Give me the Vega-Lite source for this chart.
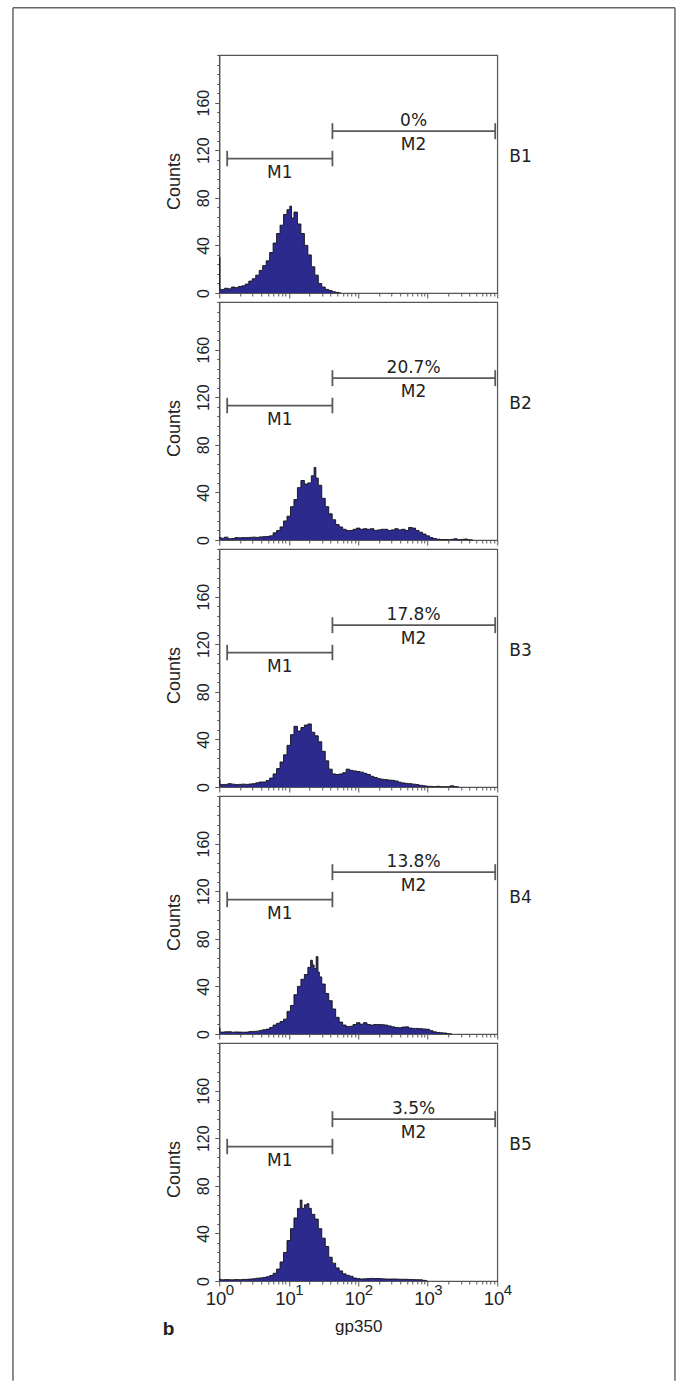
{
"$schema": "https://vega.github.io/schema/vega-lite/v6.json",
"padding": {"left": 11.25, "top": 6, "right": 0, "bottom": 0},
"background": "white",
"spacing": 9,
"bounds": "flush",
"config": {
 "view": {"stroke": "#555", "strokeWidth": 1.2},
 "axis": {"domainColor": "#555", "domainWidth": 1.2, "tickColor": "#555", "tickWidth": 1, "labelColor": "#222", "titleColor": "#222", "grid": false, "labelFont": "Liberation Sans", "titleFont": "Liberation Sans", "titleFontWeight": "normal"},
 "text": {"font": "DejaVu Sans", "fontSize": 17, "color": "#222"},
 "rule": {"color": "#5a5a5a", "strokeWidth": 1.8},
 "area": {"opacity": 1, "fillOpacity": 1}
},
"datasets": {
 "gates": [{"gate": "M1", "lo": 1.3, "hi": 42.5}, {"gate": "M2", "lo": 42.5, "hi": 9350}],
 "labels": [{"p": "B1", "pct": "0%"}, {"p": "B2", "pct": "20.7%"}, {"p": "B3", "pct": "17.8%"}, {"p": "B4", "pct": "13.8%"}, {"p": "B5", "pct": "3.5%"}],
 "exps": [{"x": 1, "e": "0"}, {"x": 10, "e": "1"}, {"x": 100, "e": "2"}, {"x": 1000, "e": "3"}, {"x": 10000, "e": "4"}],
 "hist": [
  {"p":"B1","x":1,"c":30},{"p":"B1","x":1.047,"c":3},{"p":"B1","x":1.122,"c":3},{"p":"B1","x":1.259,"c":4},{"p":"B1","x":1.413,"c":3.5},{"p":"B1","x":1.585,"c":5},{"p":"B1","x":1.778,"c":4.5},{"p":"B1","x":1.995,"c":5.5},{"p":"B1","x":2.239,"c":6},{"p":"B1","x":2.512,"c":7.5},{"p":"B1","x":2.818,"c":10},{"p":"B1","x":3.162,"c":12},{"p":"B1","x":3.548,"c":15},{"p":"B1","x":3.981,"c":19},{"p":"B1","x":4.467,"c":23},{"p":"B1","x":5.012,"c":27},{"p":"B1","x":5.623,"c":34},{"p":"B1","x":6.31,"c":42},{"p":"B1","x":7.079,"c":50},{"p":"B1","x":7.943,"c":57},{"p":"B1","x":8.913,"c":66},{"p":"B1","x":10,"c":70},{"p":"B1","x":10.72,"c":73},{"p":"B1","x":11.22,"c":63},{"p":"B1","x":12.59,"c":68},{"p":"B1","x":14.13,"c":58},{"p":"B1","x":15.85,"c":50},{"p":"B1","x":17.78,"c":40},{"p":"B1","x":19.95,"c":32},{"p":"B1","x":22.39,"c":22},{"p":"B1","x":25.12,"c":15},{"p":"B1","x":28.18,"c":8},{"p":"B1","x":31.62,"c":5},{"p":"B1","x":35.48,"c":3},{"p":"B1","x":39.81,"c":2},{"p":"B1","x":44.67,"c":1},{"p":"B1","x":50.12,"c":0.5},{"p":"B1","x":56.23,"c":0},
  {"p":"B2","x":1,"c":2},{"p":"B2","x":1.122,"c":1.5},{"p":"B2","x":1.259,"c":2.4},{"p":"B2","x":1.413,"c":1},{"p":"B2","x":1.585,"c":1.2},{"p":"B2","x":1.778,"c":2},{"p":"B2","x":1.995,"c":1.8},{"p":"B2","x":2.239,"c":2},{"p":"B2","x":2.512,"c":2},{"p":"B2","x":2.818,"c":2.2},{"p":"B2","x":3.162,"c":2.4},{"p":"B2","x":3.548,"c":2.2},{"p":"B2","x":3.981,"c":2.6},{"p":"B2","x":4.467,"c":2.8},{"p":"B2","x":5.012,"c":3},{"p":"B2","x":5.623,"c":3.5},{"p":"B2","x":6.31,"c":6},{"p":"B2","x":7.079,"c":8},{"p":"B2","x":7.943,"c":11},{"p":"B2","x":8.913,"c":16},{"p":"B2","x":10,"c":20},{"p":"B2","x":11.22,"c":28},{"p":"B2","x":12.59,"c":34},{"p":"B2","x":14.13,"c":44},{"p":"B2","x":15.85,"c":50},{"p":"B2","x":17.78,"c":47},{"p":"B2","x":19.95,"c":48},{"p":"B2","x":22.39,"c":54},{"p":"B2","x":23.99,"c":61},{"p":"B2","x":25.12,"c":52},{"p":"B2","x":28.18,"c":46},{"p":"B2","x":31.62,"c":35},{"p":"B2","x":35.48,"c":28},{"p":"B2","x":39.81,"c":22},{"p":"B2","x":44.67,"c":17},{"p":"B2","x":50.12,"c":13},{"p":"B2","x":56.23,"c":11},{"p":"B2","x":63.1,"c":9},{"p":"B2","x":70.79,"c":8},{"p":"B2","x":79.43,"c":8},{"p":"B2","x":89.13,"c":9},{"p":"B2","x":100,"c":10},{"p":"B2","x":112.2,"c":9},{"p":"B2","x":125.9,"c":9.5},{"p":"B2","x":141.3,"c":9},{"p":"B2","x":158.5,"c":9.5},{"p":"B2","x":177.8,"c":8},{"p":"B2","x":199.5,"c":8.5},{"p":"B2","x":223.9,"c":9},{"p":"B2","x":251.2,"c":9},{"p":"B2","x":281.8,"c":8},{"p":"B2","x":316.2,"c":8.5},{"p":"B2","x":354.8,"c":9.5},{"p":"B2","x":398.1,"c":8.5},{"p":"B2","x":446.7,"c":9},{"p":"B2","x":501.2,"c":8},{"p":"B2","x":562.3,"c":10.5},{"p":"B2","x":631,"c":10},{"p":"B2","x":707.9,"c":8},{"p":"B2","x":794.3,"c":6.5},{"p":"B2","x":891.3,"c":5},{"p":"B2","x":1000,"c":3.5},{"p":"B2","x":1122,"c":2},{"p":"B2","x":1259,"c":1.2},{"p":"B2","x":1413,"c":0.7},{"p":"B2","x":1585,"c":0.4},{"p":"B2","x":1778,"c":0.4},{"p":"B2","x":1995,"c":0.3},{"p":"B2","x":2239,"c":0.5},{"p":"B2","x":2512,"c":1},{"p":"B2","x":2818,"c":0.3},{"p":"B2","x":3162,"c":0.5},{"p":"B2","x":3548,"c":0.8},{"p":"B2","x":3981,"c":0.2},{"p":"B2","x":4467,"c":0},
  {"p":"B3","x":1,"c":5.6},{"p":"B3","x":1.047,"c":2},{"p":"B3","x":1.122,"c":2},{"p":"B3","x":1.259,"c":2.2},{"p":"B3","x":1.413,"c":2.8},{"p":"B3","x":1.585,"c":2.4},{"p":"B3","x":1.778,"c":2},{"p":"B3","x":1.995,"c":2.2},{"p":"B3","x":2.239,"c":2.4},{"p":"B3","x":2.512,"c":2.2},{"p":"B3","x":2.818,"c":2.5},{"p":"B3","x":3.162,"c":2.8},{"p":"B3","x":3.548,"c":3.5},{"p":"B3","x":3.981,"c":4.2},{"p":"B3","x":4.467,"c":4.2},{"p":"B3","x":5.012,"c":5.5},{"p":"B3","x":5.623,"c":7.5},{"p":"B3","x":6.31,"c":11},{"p":"B3","x":7.079,"c":15.5},{"p":"B3","x":7.943,"c":21},{"p":"B3","x":8.913,"c":27},{"p":"B3","x":10,"c":35},{"p":"B3","x":11.22,"c":44},{"p":"B3","x":12.59,"c":51},{"p":"B3","x":14.13,"c":47},{"p":"B3","x":15.85,"c":50},{"p":"B3","x":17.78,"c":52},{"p":"B3","x":19.95,"c":53},{"p":"B3","x":22.39,"c":46},{"p":"B3","x":25.12,"c":43},{"p":"B3","x":28.18,"c":38},{"p":"B3","x":31.62,"c":30},{"p":"B3","x":35.48,"c":22},{"p":"B3","x":39.81,"c":15},{"p":"B3","x":44.67,"c":11},{"p":"B3","x":50.12,"c":10.5},{"p":"B3","x":56.23,"c":11},{"p":"B3","x":63.1,"c":12},{"p":"B3","x":70.79,"c":15},{"p":"B3","x":79.43,"c":14},{"p":"B3","x":89.13,"c":13.5},{"p":"B3","x":100,"c":13},{"p":"B3","x":112.2,"c":12.5},{"p":"B3","x":125.9,"c":11.5},{"p":"B3","x":141.3,"c":10.5},{"p":"B3","x":158.5,"c":9},{"p":"B3","x":177.8,"c":8},{"p":"B3","x":199.5,"c":7},{"p":"B3","x":223.9,"c":6.5},{"p":"B3","x":251.2,"c":6.2},{"p":"B3","x":281.8,"c":5.8},{"p":"B3","x":316.2,"c":5.6},{"p":"B3","x":354.8,"c":5},{"p":"B3","x":398.1,"c":4},{"p":"B3","x":446.7,"c":3.4},{"p":"B3","x":501.2,"c":3},{"p":"B3","x":562.3,"c":2.8},{"p":"B3","x":631,"c":2.4},{"p":"B3","x":707.9,"c":2},{"p":"B3","x":794.3,"c":1.4},{"p":"B3","x":891.3,"c":1},{"p":"B3","x":1000,"c":0.6},{"p":"B3","x":1122,"c":0.5},{"p":"B3","x":1259,"c":0.3},{"p":"B3","x":1413,"c":0.6},{"p":"B3","x":1585,"c":0.3},{"p":"B3","x":1778,"c":0.2},{"p":"B3","x":1995,"c":0.3},{"p":"B3","x":2239,"c":1},{"p":"B3","x":2512,"c":0.3},{"p":"B3","x":2818,"c":0},
  {"p":"B4","x":1,"c":5},{"p":"B4","x":1.047,"c":1.5},{"p":"B4","x":1.122,"c":1.6},{"p":"B4","x":1.259,"c":1.8},{"p":"B4","x":1.413,"c":1.9},{"p":"B4","x":1.585,"c":1.5},{"p":"B4","x":1.778,"c":1.7},{"p":"B4","x":1.995,"c":1.6},{"p":"B4","x":2.239,"c":1.5},{"p":"B4","x":2.512,"c":1.6},{"p":"B4","x":2.818,"c":2},{"p":"B4","x":3.162,"c":2.2},{"p":"B4","x":3.548,"c":2.4},{"p":"B4","x":3.981,"c":3},{"p":"B4","x":4.467,"c":3.6},{"p":"B4","x":5.012,"c":4.1},{"p":"B4","x":5.623,"c":5.5},{"p":"B4","x":6.31,"c":7.5},{"p":"B4","x":7.079,"c":9},{"p":"B4","x":7.943,"c":10.5},{"p":"B4","x":8.913,"c":12.5},{"p":"B4","x":10,"c":19},{"p":"B4","x":11.22,"c":24},{"p":"B4","x":12.59,"c":33},{"p":"B4","x":14.13,"c":40},{"p":"B4","x":15.85,"c":46},{"p":"B4","x":17.78,"c":50},{"p":"B4","x":19.95,"c":56},{"p":"B4","x":21.38,"c":62},{"p":"B4","x":22.39,"c":58},{"p":"B4","x":23.99,"c":55},{"p":"B4","x":25.7,"c":65},{"p":"B4","x":26.92,"c":52},{"p":"B4","x":28.18,"c":48},{"p":"B4","x":31.62,"c":42},{"p":"B4","x":35.48,"c":34},{"p":"B4","x":39.81,"c":28},{"p":"B4","x":44.67,"c":21},{"p":"B4","x":50.12,"c":14},{"p":"B4","x":56.23,"c":10},{"p":"B4","x":63.1,"c":7.5},{"p":"B4","x":70.79,"c":6.2},{"p":"B4","x":79.43,"c":6.5},{"p":"B4","x":89.13,"c":8},{"p":"B4","x":100,"c":9.5},{"p":"B4","x":112.2,"c":8.2},{"p":"B4","x":125.9,"c":9.5},{"p":"B4","x":141.3,"c":8},{"p":"B4","x":158.5,"c":7.5},{"p":"B4","x":177.8,"c":8},{"p":"B4","x":199.5,"c":8},{"p":"B4","x":223.9,"c":7.8},{"p":"B4","x":251.2,"c":7.5},{"p":"B4","x":281.8,"c":6.8},{"p":"B4","x":316.2,"c":6},{"p":"B4","x":354.8,"c":5.5},{"p":"B4","x":398.1,"c":5.2},{"p":"B4","x":446.7,"c":5.8},{"p":"B4","x":501.2,"c":6},{"p":"B4","x":562.3,"c":5},{"p":"B4","x":631,"c":4.7},{"p":"B4","x":707.9,"c":4.7},{"p":"B4","x":794.3,"c":4.5},{"p":"B4","x":891.3,"c":4.2},{"p":"B4","x":1000,"c":4},{"p":"B4","x":1122,"c":2.8},{"p":"B4","x":1259,"c":1.8},{"p":"B4","x":1413,"c":1.3},{"p":"B4","x":1585,"c":1},{"p":"B4","x":1778,"c":0.8},{"p":"B4","x":1995,"c":0.3},{"p":"B4","x":2239,"c":0},
  {"p":"B5","x":1,"c":1.5},{"p":"B5","x":1.122,"c":1},{"p":"B5","x":1.259,"c":1.2},{"p":"B5","x":1.413,"c":1.1},{"p":"B5","x":1.585,"c":1},{"p":"B5","x":1.778,"c":1.2},{"p":"B5","x":1.995,"c":1.1},{"p":"B5","x":2.239,"c":1.3},{"p":"B5","x":2.512,"c":1.4},{"p":"B5","x":2.818,"c":1.6},{"p":"B5","x":3.162,"c":1.9},{"p":"B5","x":3.548,"c":2.3},{"p":"B5","x":3.981,"c":2.6},{"p":"B5","x":4.467,"c":3},{"p":"B5","x":5.012,"c":3.6},{"p":"B5","x":5.623,"c":4.6},{"p":"B5","x":6.31,"c":6.5},{"p":"B5","x":7.079,"c":10},{"p":"B5","x":7.943,"c":16},{"p":"B5","x":8.913,"c":24},{"p":"B5","x":10,"c":34},{"p":"B5","x":11.22,"c":44},{"p":"B5","x":12.59,"c":53},{"p":"B5","x":14.13,"c":61},{"p":"B5","x":15.14,"c":68},{"p":"B5","x":15.85,"c":61},{"p":"B5","x":17.78,"c":64},{"p":"B5","x":19.05,"c":65},{"p":"B5","x":19.95,"c":61},{"p":"B5","x":22.39,"c":56},{"p":"B5","x":25.12,"c":52},{"p":"B5","x":28.18,"c":44},{"p":"B5","x":31.62,"c":36},{"p":"B5","x":35.48,"c":29},{"p":"B5","x":39.81,"c":20},{"p":"B5","x":44.67,"c":15},{"p":"B5","x":50.12,"c":11},{"p":"B5","x":56.23,"c":8.5},{"p":"B5","x":63.1,"c":6},{"p":"B5","x":70.79,"c":4.8},{"p":"B5","x":79.43,"c":4},{"p":"B5","x":89.13,"c":2.5},{"p":"B5","x":100,"c":2},{"p":"B5","x":112.2,"c":1.7},{"p":"B5","x":125.9,"c":1.8},{"p":"B5","x":141.3,"c":2},{"p":"B5","x":158.5,"c":2.2},{"p":"B5","x":177.8,"c":2},{"p":"B5","x":199.5,"c":2.1},{"p":"B5","x":223.9,"c":1.8},{"p":"B5","x":251.2,"c":1.7},{"p":"B5","x":281.8,"c":1.6},{"p":"B5","x":316.2,"c":1.7},{"p":"B5","x":354.8,"c":1.6},{"p":"B5","x":398.1,"c":1.5},{"p":"B5","x":446.7,"c":1.4},{"p":"B5","x":501.2,"c":1.4},{"p":"B5","x":562.3,"c":1.3},{"p":"B5","x":631,"c":1.2},{"p":"B5","x":707.9,"c":1.1},{"p":"B5","x":794.3,"c":1},{"p":"B5","x":891.3,"c":0.5},{"p":"B5","x":1000,"c":0}
 ]
},
"vconcat": [
 {"width": 278, "height": 238, "resolve": {"axis": {"y": "independent"}}, "layer": [
  {"data": {"name": "hist"}, "transform": [{"filter": "datum.p === 'B1'"}],
   "mark": {"type": "area", "interpolate": "step", "color": "#2d2a8e", "opacity": 1, "line": {"color": "#111", "strokeWidth": 0.9}},
   "encoding": {
    "x": {"field": "x", "type": "quantitative", "scale": {"type": "log", "domain": [1, 10000], "nice": false},
     "axis": {"values": [1,2,3,4,5,6,7,8,9,10,20,30,40,50,60,70,80,90,100,200,300,400,500,600,700,800,900,1000,2000,3000,4000,5000,6000,7000,8000,9000,10000], "labels": false, "title": null, "tickSize": {"condition": {"test": "indexof([1,10,100,1000,10000], datum.value) >= 0", "value": 5}, "value": 3}}},
    "y": {"field": "c", "type": "quantitative", "scale": {"domain": [0, 200], "nice": false},
     "axis": {"orient": "left", "values": [0,40,80,120,160], "labelAngle": -90, "labelAlign": "center", "labelBaseline": "alphabetic", "labelPadding": 6.5, "labelFontSize": 16, "labelOverlap": false, "labelFlush": false, "tickSize": 4.5, "title": "Counts", "titleFontSize": 18, "titleAngle": -90, "titleX": -40, "titleY": 126, "titleAlign": "center", "titleBaseline": "alphabetic"}}
   }},
  {"data": {"name": "hist"}, "transform": [{"filter": "datum.p === 'B1'"}], "mark": {"type": "point", "opacity": 0},
   "encoding": {"x": {"field": "x", "type": "quantitative"}, "y": {"field": "c", "type": "quantitative", "axis": {"orient": "left", "values": [8,16,24,32,48,56,64,72,88,96,104,112,128,136,144,152,168,176,184,192,200], "labels": false, "domain": false, "tickSize": 2.5, "title": null}}}},
  {"data": {"name": "gates"}, "transform": [{"filter": "datum.gate === 'M1'"}], "mark": "rule", "encoding": {"x": {"field": "lo", "type": "quantitative"}, "x2": {"field": "hi"}, "y": {"datum": 113, "axis": null}}},
  {"data": {"name": "gates"}, "transform": [{"filter": "datum.gate === 'M1'"}, {"fold": ["lo", "hi"], "as": ["end", "xv"]}], "mark": "rule", "encoding": {"x": {"field": "xv", "type": "quantitative"}, "y": {"datum": 106.5, "axis": null}, "y2": {"datum": 119.5}}},
  {"data": {"name": "gates"}, "transform": [{"filter": "datum.gate === 'M2'"}], "mark": "rule", "encoding": {"x": {"field": "lo", "type": "quantitative"}, "x2": {"field": "hi"}, "y": {"datum": 136, "axis": null}}},
  {"data": {"name": "gates"}, "transform": [{"filter": "datum.gate === 'M2'"}, {"fold": ["lo", "hi"], "as": ["end", "xv"]}], "mark": "rule", "encoding": {"x": {"field": "xv", "type": "quantitative"}, "y": {"datum": 129.3, "axis": null}, "y2": {"datum": 142.7}}},
  {"data": {"name": "gates"}, "transform": [{"filter": "datum.gate === 'M1'"}], "mark": {"type": "text", "baseline": "alphabetic"}, "encoding": {"x": {"datum": 7.43}, "y": {"datum": 96.5, "axis": null}, "text": {"field": "gate"}}},
  {"data": {"name": "gates"}, "transform": [{"filter": "datum.gate === 'M2'"}], "mark": {"type": "text", "baseline": "alphabetic"}, "encoding": {"x": {"datum": 625}, "y": {"datum": 120.4, "axis": null}, "text": {"field": "gate"}}},
  {"data": {"name": "labels"}, "transform": [{"filter": "datum.p === 'B1'"}], "mark": {"type": "text", "baseline": "alphabetic"}, "encoding": {"x": {"datum": 625}, "y": {"datum": 140, "axis": null}, "text": {"field": "pct"}}},
  {"data": {"name": "labels"}, "transform": [{"filter": "datum.p === 'B1'"}], "mark": {"type": "text", "baseline": "alphabetic", "align": "left"}, "encoding": {"x": {"datum": 14900}, "y": {"datum": 109.7, "axis": null}, "text": {"field": "p"}}},
  {"data": {"values": [{"part": "top"}]}, "mark": {"type": "rule", "color": "#666", "strokeWidth": 1.5}, "encoding": {"x": {"datum": 0.001076}, "x2": {"datum": 3606000}, "y": {"datum": 239.7, "axis": null}}},
  {"data": {"values": [{"part": "left"}]}, "mark": {"type": "rule", "color": "#666", "strokeWidth": 1.5}, "encoding": {"x": {"datum": 0.001076}, "y": {"datum": 239.7, "axis": null}, "y2": {"datum": -914}}},
  {"data": {"values": [{"part": "right"}]}, "mark": {"type": "rule", "color": "#666", "strokeWidth": 1.5}, "encoding": {"x": {"datum": 3606000}, "y": {"datum": 239.7, "axis": null}, "y2": {"datum": -914}}}
 ]},
 {"width": 278, "height": 238, "resolve": {"axis": {"y": "independent"}}, "layer": [
  {"data": {"name": "hist"}, "transform": [{"filter": "datum.p === 'B2'"}],
   "mark": {"type": "area", "interpolate": "step", "color": "#2d2a8e", "opacity": 1, "line": {"color": "#111", "strokeWidth": 0.9}},
   "encoding": {
    "x": {"field": "x", "type": "quantitative", "scale": {"type": "log", "domain": [1, 10000], "nice": false},
     "axis": {"values": [1,2,3,4,5,6,7,8,9,10,20,30,40,50,60,70,80,90,100,200,300,400,500,600,700,800,900,1000,2000,3000,4000,5000,6000,7000,8000,9000,10000], "labels": false, "title": null, "tickSize": {"condition": {"test": "indexof([1,10,100,1000,10000], datum.value) >= 0", "value": 5}, "value": 3}}},
    "y": {"field": "c", "type": "quantitative", "scale": {"domain": [0, 200], "nice": false},
     "axis": {"orient": "left", "values": [0,40,80,120,160], "labelAngle": -90, "labelAlign": "center", "labelBaseline": "alphabetic", "labelPadding": 6.5, "labelFontSize": 16, "labelOverlap": false, "labelFlush": false, "tickSize": 4.5, "title": "Counts", "titleFontSize": 18, "titleAngle": -90, "titleX": -40, "titleY": 126, "titleAlign": "center", "titleBaseline": "alphabetic"}}
   }},
  {"data": {"name": "hist"}, "transform": [{"filter": "datum.p === 'B2'"}], "mark": {"type": "point", "opacity": 0},
   "encoding": {"x": {"field": "x", "type": "quantitative"}, "y": {"field": "c", "type": "quantitative", "axis": {"orient": "left", "values": [8,16,24,32,48,56,64,72,88,96,104,112,128,136,144,152,168,176,184,192,200], "labels": false, "domain": false, "tickSize": 2.5, "title": null}}}},
  {"data": {"name": "gates"}, "transform": [{"filter": "datum.gate === 'M1'"}], "mark": "rule", "encoding": {"x": {"field": "lo", "type": "quantitative"}, "x2": {"field": "hi"}, "y": {"datum": 113, "axis": null}}},
  {"data": {"name": "gates"}, "transform": [{"filter": "datum.gate === 'M1'"}, {"fold": ["lo", "hi"], "as": ["end", "xv"]}], "mark": "rule", "encoding": {"x": {"field": "xv", "type": "quantitative"}, "y": {"datum": 106.5, "axis": null}, "y2": {"datum": 119.5}}},
  {"data": {"name": "gates"}, "transform": [{"filter": "datum.gate === 'M2'"}], "mark": "rule", "encoding": {"x": {"field": "lo", "type": "quantitative"}, "x2": {"field": "hi"}, "y": {"datum": 136, "axis": null}}},
  {"data": {"name": "gates"}, "transform": [{"filter": "datum.gate === 'M2'"}, {"fold": ["lo", "hi"], "as": ["end", "xv"]}], "mark": "rule", "encoding": {"x": {"field": "xv", "type": "quantitative"}, "y": {"datum": 129.3, "axis": null}, "y2": {"datum": 142.7}}},
  {"data": {"name": "gates"}, "transform": [{"filter": "datum.gate === 'M1'"}], "mark": {"type": "text", "baseline": "alphabetic"}, "encoding": {"x": {"datum": 7.43}, "y": {"datum": 96.5, "axis": null}, "text": {"field": "gate"}}},
  {"data": {"name": "gates"}, "transform": [{"filter": "datum.gate === 'M2'"}], "mark": {"type": "text", "baseline": "alphabetic"}, "encoding": {"x": {"datum": 625}, "y": {"datum": 120.4, "axis": null}, "text": {"field": "gate"}}},
  {"data": {"name": "labels"}, "transform": [{"filter": "datum.p === 'B2'"}], "mark": {"type": "text", "baseline": "alphabetic"}, "encoding": {"x": {"datum": 625}, "y": {"datum": 140, "axis": null}, "text": {"field": "pct"}}},
  {"data": {"name": "labels"}, "transform": [{"filter": "datum.p === 'B2'"}], "mark": {"type": "text", "baseline": "alphabetic", "align": "left"}, "encoding": {"x": {"datum": 14900}, "y": {"datum": 109.7, "axis": null}, "text": {"field": "p"}}}
 ]},
 {"width": 278, "height": 238, "resolve": {"axis": {"y": "independent"}}, "layer": [
  {"data": {"name": "hist"}, "transform": [{"filter": "datum.p === 'B3'"}],
   "mark": {"type": "area", "interpolate": "step", "color": "#2d2a8e", "opacity": 1, "line": {"color": "#111", "strokeWidth": 0.9}},
   "encoding": {
    "x": {"field": "x", "type": "quantitative", "scale": {"type": "log", "domain": [1, 10000], "nice": false},
     "axis": {"values": [1,2,3,4,5,6,7,8,9,10,20,30,40,50,60,70,80,90,100,200,300,400,500,600,700,800,900,1000,2000,3000,4000,5000,6000,7000,8000,9000,10000], "labels": false, "title": null, "tickSize": {"condition": {"test": "indexof([1,10,100,1000,10000], datum.value) >= 0", "value": 5}, "value": 3}}},
    "y": {"field": "c", "type": "quantitative", "scale": {"domain": [0, 200], "nice": false},
     "axis": {"orient": "left", "values": [0,40,80,120,160], "labelAngle": -90, "labelAlign": "center", "labelBaseline": "alphabetic", "labelPadding": 6.5, "labelFontSize": 16, "labelOverlap": false, "labelFlush": false, "tickSize": 4.5, "title": "Counts", "titleFontSize": 18, "titleAngle": -90, "titleX": -40, "titleY": 126, "titleAlign": "center", "titleBaseline": "alphabetic"}}
   }},
  {"data": {"name": "hist"}, "transform": [{"filter": "datum.p === 'B3'"}], "mark": {"type": "point", "opacity": 0},
   "encoding": {"x": {"field": "x", "type": "quantitative"}, "y": {"field": "c", "type": "quantitative", "axis": {"orient": "left", "values": [8,16,24,32,48,56,64,72,88,96,104,112,128,136,144,152,168,176,184,192,200], "labels": false, "domain": false, "tickSize": 2.5, "title": null}}}},
  {"data": {"name": "gates"}, "transform": [{"filter": "datum.gate === 'M1'"}], "mark": "rule", "encoding": {"x": {"field": "lo", "type": "quantitative"}, "x2": {"field": "hi"}, "y": {"datum": 113, "axis": null}}},
  {"data": {"name": "gates"}, "transform": [{"filter": "datum.gate === 'M1'"}, {"fold": ["lo", "hi"], "as": ["end", "xv"]}], "mark": "rule", "encoding": {"x": {"field": "xv", "type": "quantitative"}, "y": {"datum": 106.5, "axis": null}, "y2": {"datum": 119.5}}},
  {"data": {"name": "gates"}, "transform": [{"filter": "datum.gate === 'M2'"}], "mark": "rule", "encoding": {"x": {"field": "lo", "type": "quantitative"}, "x2": {"field": "hi"}, "y": {"datum": 136, "axis": null}}},
  {"data": {"name": "gates"}, "transform": [{"filter": "datum.gate === 'M2'"}, {"fold": ["lo", "hi"], "as": ["end", "xv"]}], "mark": "rule", "encoding": {"x": {"field": "xv", "type": "quantitative"}, "y": {"datum": 129.3, "axis": null}, "y2": {"datum": 142.7}}},
  {"data": {"name": "gates"}, "transform": [{"filter": "datum.gate === 'M1'"}], "mark": {"type": "text", "baseline": "alphabetic"}, "encoding": {"x": {"datum": 7.43}, "y": {"datum": 96.5, "axis": null}, "text": {"field": "gate"}}},
  {"data": {"name": "gates"}, "transform": [{"filter": "datum.gate === 'M2'"}], "mark": {"type": "text", "baseline": "alphabetic"}, "encoding": {"x": {"datum": 625}, "y": {"datum": 120.4, "axis": null}, "text": {"field": "gate"}}},
  {"data": {"name": "labels"}, "transform": [{"filter": "datum.p === 'B3'"}], "mark": {"type": "text", "baseline": "alphabetic"}, "encoding": {"x": {"datum": 625}, "y": {"datum": 140, "axis": null}, "text": {"field": "pct"}}},
  {"data": {"name": "labels"}, "transform": [{"filter": "datum.p === 'B3'"}], "mark": {"type": "text", "baseline": "alphabetic", "align": "left"}, "encoding": {"x": {"datum": 14900}, "y": {"datum": 109.7, "axis": null}, "text": {"field": "p"}}}
 ]},
 {"width": 278, "height": 238, "resolve": {"axis": {"y": "independent"}}, "layer": [
  {"data": {"name": "hist"}, "transform": [{"filter": "datum.p === 'B4'"}],
   "mark": {"type": "area", "interpolate": "step", "color": "#2d2a8e", "opacity": 1, "line": {"color": "#111", "strokeWidth": 0.9}},
   "encoding": {
    "x": {"field": "x", "type": "quantitative", "scale": {"type": "log", "domain": [1, 10000], "nice": false},
     "axis": {"values": [1,2,3,4,5,6,7,8,9,10,20,30,40,50,60,70,80,90,100,200,300,400,500,600,700,800,900,1000,2000,3000,4000,5000,6000,7000,8000,9000,10000], "labels": false, "title": null, "tickSize": {"condition": {"test": "indexof([1,10,100,1000,10000], datum.value) >= 0", "value": 5}, "value": 3}}},
    "y": {"field": "c", "type": "quantitative", "scale": {"domain": [0, 200], "nice": false},
     "axis": {"orient": "left", "values": [0,40,80,120,160], "labelAngle": -90, "labelAlign": "center", "labelBaseline": "alphabetic", "labelPadding": 6.5, "labelFontSize": 16, "labelOverlap": false, "labelFlush": false, "tickSize": 4.5, "title": "Counts", "titleFontSize": 18, "titleAngle": -90, "titleX": -40, "titleY": 126, "titleAlign": "center", "titleBaseline": "alphabetic"}}
   }},
  {"data": {"name": "hist"}, "transform": [{"filter": "datum.p === 'B4'"}], "mark": {"type": "point", "opacity": 0},
   "encoding": {"x": {"field": "x", "type": "quantitative"}, "y": {"field": "c", "type": "quantitative", "axis": {"orient": "left", "values": [8,16,24,32,48,56,64,72,88,96,104,112,128,136,144,152,168,176,184,192,200], "labels": false, "domain": false, "tickSize": 2.5, "title": null}}}},
  {"data": {"name": "gates"}, "transform": [{"filter": "datum.gate === 'M1'"}], "mark": "rule", "encoding": {"x": {"field": "lo", "type": "quantitative"}, "x2": {"field": "hi"}, "y": {"datum": 113, "axis": null}}},
  {"data": {"name": "gates"}, "transform": [{"filter": "datum.gate === 'M1'"}, {"fold": ["lo", "hi"], "as": ["end", "xv"]}], "mark": "rule", "encoding": {"x": {"field": "xv", "type": "quantitative"}, "y": {"datum": 106.5, "axis": null}, "y2": {"datum": 119.5}}},
  {"data": {"name": "gates"}, "transform": [{"filter": "datum.gate === 'M2'"}], "mark": "rule", "encoding": {"x": {"field": "lo", "type": "quantitative"}, "x2": {"field": "hi"}, "y": {"datum": 136, "axis": null}}},
  {"data": {"name": "gates"}, "transform": [{"filter": "datum.gate === 'M2'"}, {"fold": ["lo", "hi"], "as": ["end", "xv"]}], "mark": "rule", "encoding": {"x": {"field": "xv", "type": "quantitative"}, "y": {"datum": 129.3, "axis": null}, "y2": {"datum": 142.7}}},
  {"data": {"name": "gates"}, "transform": [{"filter": "datum.gate === 'M1'"}], "mark": {"type": "text", "baseline": "alphabetic"}, "encoding": {"x": {"datum": 7.43}, "y": {"datum": 96.5, "axis": null}, "text": {"field": "gate"}}},
  {"data": {"name": "gates"}, "transform": [{"filter": "datum.gate === 'M2'"}], "mark": {"type": "text", "baseline": "alphabetic"}, "encoding": {"x": {"datum": 625}, "y": {"datum": 120.4, "axis": null}, "text": {"field": "gate"}}},
  {"data": {"name": "labels"}, "transform": [{"filter": "datum.p === 'B4'"}], "mark": {"type": "text", "baseline": "alphabetic"}, "encoding": {"x": {"datum": 625}, "y": {"datum": 140, "axis": null}, "text": {"field": "pct"}}},
  {"data": {"name": "labels"}, "transform": [{"filter": "datum.p === 'B4'"}], "mark": {"type": "text", "baseline": "alphabetic", "align": "left"}, "encoding": {"x": {"datum": 14900}, "y": {"datum": 109.7, "axis": null}, "text": {"field": "p"}}}
 ]},
 {"width": 278, "height": 238, "resolve": {"axis": {"y": "independent"}}, "layer": [
  {"data": {"name": "hist"}, "transform": [{"filter": "datum.p === 'B5'"}],
   "mark": {"type": "area", "interpolate": "step", "color": "#2d2a8e", "opacity": 1, "line": {"color": "#111", "strokeWidth": 0.9}},
   "encoding": {
    "x": {"field": "x", "type": "quantitative", "scale": {"type": "log", "domain": [1, 10000], "nice": false},
     "axis": {"values": [1,2,3,4,5,6,7,8,9,10,20,30,40,50,60,70,80,90,100,200,300,400,500,600,700,800,900,1000,2000,3000,4000,5000,6000,7000,8000,9000,10000], "labelExpr": "indexof([1,10,100,1000,10000], datum.value) >= 0 ? '10' : ''", "labelAlign": "right", "labelOffset": 6.5, "labelBaseline": "alphabetic", "labelPadding": 18, "labelFontSize": 18.5, "labelOverlap": false, "labelFlush": false, "labelBound": false, "tickSize": {"condition": {"test": "indexof([1,10,100,1000,10000], datum.value) >= 0", "value": 5}, "value": 3}, "title": "gp350", "titleFontSize": 17, "titleY": 50, "titleBaseline": "alphabetic"}},
    "y": {"field": "c", "type": "quantitative", "scale": {"domain": [0, 200], "nice": false},
     "axis": {"orient": "left", "values": [0,40,80,120,160], "labelAngle": -90, "labelAlign": "center", "labelBaseline": "alphabetic", "labelPadding": 6.5, "labelFontSize": 16, "labelOverlap": false, "labelFlush": false, "tickSize": 4.5, "title": "Counts", "titleFontSize": 18, "titleAngle": -90, "titleX": -40, "titleY": 126, "titleAlign": "center", "titleBaseline": "alphabetic"}}
   }},
  {"data": {"name": "hist"}, "transform": [{"filter": "datum.p === 'B5'"}], "mark": {"type": "point", "opacity": 0},
   "encoding": {"x": {"field": "x", "type": "quantitative"}, "y": {"field": "c", "type": "quantitative", "axis": {"orient": "left", "values": [8,16,24,32,48,56,64,72,88,96,104,112,128,136,144,152,168,176,184,192,200], "labels": false, "domain": false, "tickSize": 2.5, "title": null}}}},
  {"data": {"name": "gates"}, "transform": [{"filter": "datum.gate === 'M1'"}], "mark": "rule", "encoding": {"x": {"field": "lo", "type": "quantitative"}, "x2": {"field": "hi"}, "y": {"datum": 113, "axis": null}}},
  {"data": {"name": "gates"}, "transform": [{"filter": "datum.gate === 'M1'"}, {"fold": ["lo", "hi"], "as": ["end", "xv"]}], "mark": "rule", "encoding": {"x": {"field": "xv", "type": "quantitative"}, "y": {"datum": 106.5, "axis": null}, "y2": {"datum": 119.5}}},
  {"data": {"name": "gates"}, "transform": [{"filter": "datum.gate === 'M2'"}], "mark": "rule", "encoding": {"x": {"field": "lo", "type": "quantitative"}, "x2": {"field": "hi"}, "y": {"datum": 136, "axis": null}}},
  {"data": {"name": "gates"}, "transform": [{"filter": "datum.gate === 'M2'"}, {"fold": ["lo", "hi"], "as": ["end", "xv"]}], "mark": "rule", "encoding": {"x": {"field": "xv", "type": "quantitative"}, "y": {"datum": 129.3, "axis": null}, "y2": {"datum": 142.7}}},
  {"data": {"name": "gates"}, "transform": [{"filter": "datum.gate === 'M1'"}], "mark": {"type": "text", "baseline": "alphabetic"}, "encoding": {"x": {"datum": 7.43}, "y": {"datum": 96.5, "axis": null}, "text": {"field": "gate"}}},
  {"data": {"name": "gates"}, "transform": [{"filter": "datum.gate === 'M2'"}], "mark": {"type": "text", "baseline": "alphabetic"}, "encoding": {"x": {"datum": 625}, "y": {"datum": 120.4, "axis": null}, "text": {"field": "gate"}}},
  {"data": {"name": "labels"}, "transform": [{"filter": "datum.p === 'B5'"}], "mark": {"type": "text", "baseline": "alphabetic"}, "encoding": {"x": {"datum": 625}, "y": {"datum": 140, "axis": null}, "text": {"field": "pct"}}},
  {"data": {"name": "labels"}, "transform": [{"filter": "datum.p === 'B5'"}], "mark": {"type": "text", "baseline": "alphabetic", "align": "left"}, "encoding": {"x": {"datum": 14900}, "y": {"datum": 109.7, "axis": null}, "text": {"field": "p"}}},
  {"data": {"name": "exps"}, "mark": {"type": "text", "align": "left", "baseline": "alphabetic", "dx": 6.5, "fontSize": 15, "font": "Liberation Sans"}, "encoding": {"x": {"field": "x", "type": "quantitative"}, "y": {"datum": -12, "axis": null}, "text": {"field": "e"}}},
  {"data": {"values": [{"t": "b"}]}, "mark": {"type": "text", "align": "left", "baseline": "alphabetic", "fontSize": 19, "fontWeight": "bold", "font": "Liberation Sans"}, "encoding": {"x": {"datum": 0.1534}, "y": {"datum": -45.4, "axis": null}, "text": {"field": "t"}}}
 ]}
]
}
